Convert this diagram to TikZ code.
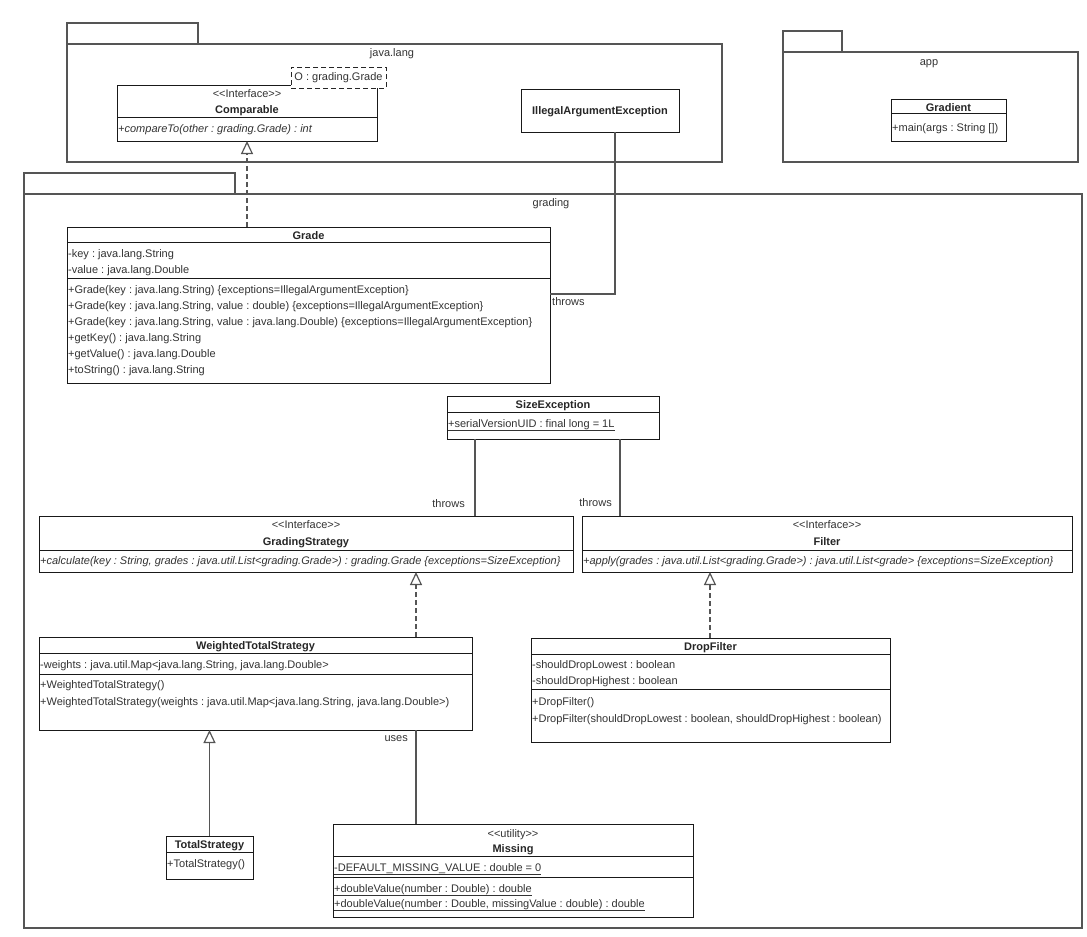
\documentclass[tikz,border=0pt]{standalone}
\usepackage{fontspec}
\setmainfont{Liberation Sans}
\usepackage{tikz}
\usetikzlibrary{arrows.meta}
\definecolor{umlline}{HTML}{555555}
\definecolor{umltext}{HTML}{333333}
\newcommand{\umlfont}{\fontsize{11}{13}\selectfont\frenchspacing}
\tikzstyle{package}=[rectangle,draw=umlline,line width=1.3pt,
                     inner sep=0pt,outer sep=0pt,anchor=north west]
\tikzstyle{classbox}=[rectangle,draw=black!90,fill=white,line width=1pt,
                      inner sep=0pt,outer sep=0pt,anchor=north west]
\tikzstyle{classline}=[draw=black!90,line width=1pt]
\tikzstyle{parambox}=[rectangle,draw=black!85,fill=white,line width=1pt,
                      dash pattern=on 5pt off 3pt,inner sep=0pt,
                      minimum width=95pt,minimum height=21pt,
                      font=\umlfont,text=umltext]
\tikzstyle{member}=[anchor=base west,inner sep=0pt,font=\umlfont,text=umltext]
\tikzstyle{abstract}=[member,font=\umlfont\itshape]
\tikzstyle{title}=[anchor=base,inner sep=0pt,font=\umlfont\bfseries,text=black!85]
\tikzstyle{stereo}=[anchor=base,inner sep=0pt,font=\umlfont,text=umltext]
\tikzstyle{pkgname}=[anchor=base,inner sep=0pt,font=\umlfont,text=umltext]
\tikzstyle{lbl}=[inner sep=0pt,font=\umlfont,text=umltext]
\tikzstyle{assoc}=[draw=umlline,line width=1.2pt]
\tikzstyle{realize}=[assoc,dash pattern=on 5pt off 3pt,
                     -{Triangle[open,length=13pt,width=12pt]}]
\tikzstyle{generalize}=[assoc,-{Triangle[open,length=13pt,width=12pt]}]

\begin{document}
\begin{tikzpicture}[x=1pt,y=-1pt]
    \newcommand{\compline}[2]{\draw[classline] ([yshift=-#2pt]#1.north west) -- ([yshift=-#2pt]#1.north east);}
    \path[use as bounding box,fill=white] (0,0) rectangle (1087,937);

    \node (javalang-tab) at (67,23) [package,minimum width=131pt,minimum height=21pt]{};
    \node (javalang) at (67,44) [package,minimum width=655pt,minimum height=118pt]{};
    \node (javalang-name) at (392,56) [pkgname]{java.lang};
    \node (app-tab) at (783,31) [package,minimum width=59pt,minimum height=21pt]{};
    \node (app) at (783,52) [package,minimum width=295pt,minimum height=110pt]{};
    \node (app-name) at (929,65) [pkgname]{app};
    \node (grading-tab) at (24,173) [package,minimum width=211pt,minimum height=21pt]{};
    \node (grading) at (24,194) [package,minimum width=1058pt,minimum height=734pt]{};
    \node (grading-name) at (551,206) [pkgname]{grading};

    \node (cmp) at (117,85) [classbox,minimum width=260pt,minimum height=56pt]{};
    \compline{cmp}{32}
    \node (cmp-st) at (247,97) [stereo]{{<}{<}Interface{>}{>}};
    \node (cmp-name) at (247,113) [title]{Comparable};
    \node (cmp-m1) at (118,132) [abstract]{+compareTo(other : grading.Grade) : int};
    \node (cmp-param) at (338.5,77.5) [parambox]{O : grading.Grade};

    \node (iae) at (521,89) [classbox,minimum width=158pt,minimum height=43pt]{};
    \node (iae-name) at (600,114) [title]{IllegalArgumentException};

    \node (gradient) at (891,99) [classbox,minimum width=115pt,minimum height=42pt]{};
    \compline{gradient}{14}
    \node (gradient-name) at (948.5,111) [title]{Gradient};
    \node (gradient-m1) at (892,131) [member]{+main(args : String [])};

    \node (grade) at (67,227) [classbox,minimum width=483pt,minimum height=156pt]{};
    \compline{grade}{15}
    \compline{grade}{51}
    \node (grade-name) at (308.5,239) [title]{Grade};
    \node (grade-a1) at (68,257) [member]{-key : java.lang.String};
    \node (grade-a2) at (68,273) [member]{-value : java.lang.Double};
    \node (grade-m1) at (68,293) [member]{+Grade(key : java.lang.String) \{exceptions=IllegalArgumentException\}};
    \node (grade-m2) at (68,309) [member]{+Grade(key : java.lang.String, value : double) \{exceptions=IllegalArgumentException\}};
    \node (grade-m3) at (68,325) [member]{+Grade(key : java.lang.String, value : java.lang.Double) \{exceptions=IllegalArgumentException\}};
    \node (grade-m4) at (68,341) [member]{+getKey() : java.lang.String};
    \node (grade-m5) at (68,357) [member]{+getValue() : java.lang.Double};
    \node (grade-m6) at (68,373) [member]{+toString() : java.lang.String};

    \node (se) at (447,396) [classbox,minimum width=212pt,minimum height=43pt]{};
    \compline{se}{16}
    \node (se-name) at (553,408) [title]{SizeException};
    \node (se-a1) at (448,427) [member]{\underline{+serialVersionUID : final long = 1L}};

    \node (gs) at (39,516) [classbox,minimum width=534pt,minimum height=56pt]{};
    \compline{gs}{34}
    \node (gs-st) at (306,528) [stereo]{{<}{<}Interface{>}{>}};
    \node (gs-name) at (306,545) [title]{GradingStrategy};
    \node (gs-m1) at (40,564) [abstract]{+calculate(key : String, grades : java.util.List{<}grading.Grade{>}) : grading.Grade \{exceptions=SizeException\}};

    \node (filter) at (582,516) [classbox,minimum width=490pt,minimum height=56pt]{};
    \compline{filter}{34}
    \node (filter-st) at (827,528) [stereo]{{<}{<}Interface{>}{>}};
    \node (filter-name) at (827,545) [title]{Filter};
    \node (filter-m1) at (583,564) [abstract]{+apply(grades : java.util.List{<}grading.Grade{>}) : java.util.List{<}grade{>} \{exceptions=SizeException\}};

    \node (wts) at (39,637) [classbox,minimum width=433pt,minimum height=93pt]{};
    \compline{wts}{16}
    \compline{wts}{37}
    \node (wts-name) at (255.5,649) [title]{WeightedTotalStrategy};
    \node (wts-a1) at (40,668) [member]{-weights : java.util.Map{<}java.lang.String, java.lang.Double{>}};
    \node (wts-m1) at (40,688) [member]{+WeightedTotalStrategy()};
    \node (wts-m2) at (40,705) [member]{+WeightedTotalStrategy(weights : java.util.Map{<}java.lang.String, java.lang.Double{>})};

    \node (df) at (531,638) [classbox,minimum width=359pt,minimum height=104pt]{};
    \compline{df}{16}
    \compline{df}{51}
    \node (df-name) at (710.5,650) [title]{DropFilter};
    \node (df-a1) at (532,668) [member]{-shouldDropLowest : boolean};
    \node (df-a2) at (532,684) [member]{-shouldDropHighest : boolean};
    \node (df-m1) at (532,705) [member]{+DropFilter()};
    \node (df-m2) at (532,722) [member]{+DropFilter(shouldDropLowest : boolean, shouldDropHighest : boolean)};

    \node (ts) at (166,836) [classbox,minimum width=87pt,minimum height=43pt]{};
    \compline{ts}{16}
    \node (ts-name) at (209.5,848) [title]{TotalStrategy};
    \node (ts-m1) at (167,867) [member]{+TotalStrategy()};

    \node (missing) at (333,824) [classbox,minimum width=360pt,minimum height=93pt]{};
    \compline{missing}{32}
    \compline{missing}{53}
    \node (missing-st) at (513,837) [stereo]{{<}{<}utility{>}{>}};
    \node (missing-name) at (513,852) [title]{Missing};
    \node (missing-a1) at (334,871) [member]{\underline{-DEFAULT\_MISSING\_VALUE : double = 0}};
    \node (missing-m1) at (334,892) [member]{\underline{+doubleValue(number : Double) : double}};
    \node (missing-m2) at (334,907) [member]{\underline{+doubleValue(number : Double, missingValue : double) : double}};

    \draw[realize] (grade.north -| cmp.south) -- (cmp.south);
    \draw[assoc] (iae.south -| 615,0) |- (grade.east |- 0,294);
    \node (iae-throws) at (552,305) [lbl,anchor=base west]{throws};
    \draw[assoc] (se.south -| 475,0) -- (gs.north -| 475,0);
    \node (gs-throws) at (465,507) [lbl,anchor=base east]{throws};
    \draw[assoc] (se.south -| 620,0) -- (filter.north -| 620,0);
    \node (filter-throws) at (612,506) [lbl,anchor=base east]{throws};
    \draw[realize] (wts.north -| 416,0) -- (gs.south -| 416,0);
    \draw[realize] (df.north -| 710,0) -- (filter.south -| 710,0);
    \draw[generalize] (ts.north) -- (wts.south -| ts.north);
    \draw[assoc] (wts.south -| 416,0) -- (missing.north -| 416,0);
    \node (wts-uses) at (408,741) [lbl,anchor=base east]{uses};
\end{tikzpicture}
\end{document}
